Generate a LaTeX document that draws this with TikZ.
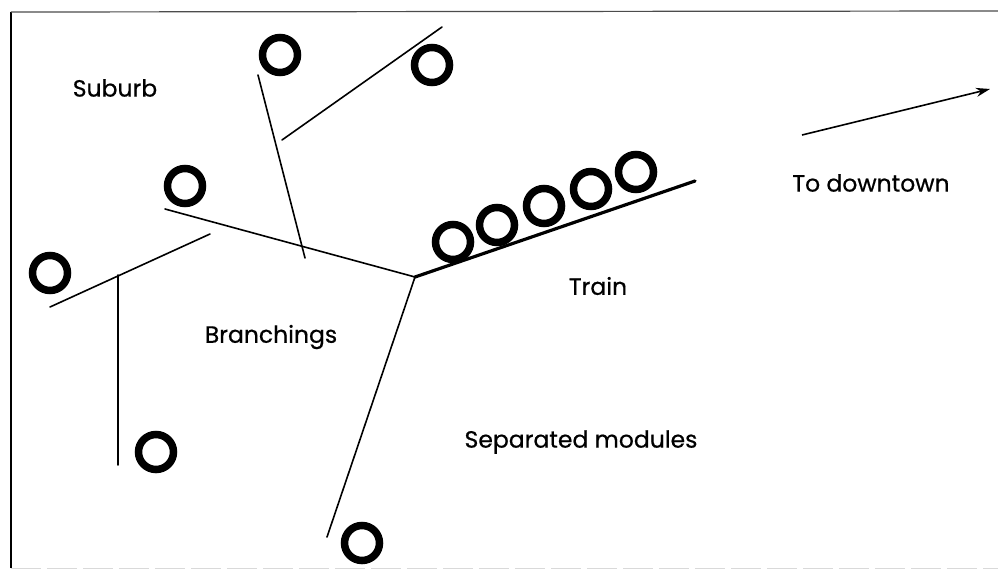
\documentclass[tikz,border=0pt]{standalone}
\usepackage{fontspec}
\setmainfont{Poppins}
\usetikzlibrary{arrows.meta}
\begin{document}
\begin{tikzpicture}[x=1pt,y=-1pt,
  module/.style={draw, circle, line width=7.5pt, minimum size=35pt, inner sep=0pt},
  road/.style={line width=1.6pt, line cap=round},
  rail/.style={line width=3.2pt, line cap=round},
  label/.style={font=\fontsize{23.5}{26}\selectfont\addfontfeatures{FakeBold=0.6}, inner sep=0pt}]
\useasboundingbox (0,0) rectangle (998,570);
\fill[white] (0,0) rectangle (998,570);
% frame
\draw[line width=2pt] (11,568) -- (11,12);
\draw[line width=1.2pt, black!70] (11,12) -- (998,11);
\draw[line width=1pt, black!15, dash pattern=on 30pt off 6pt] (11,568) -- (998,568);
% modules
\node[module] (m1) at (280,55) {};
\node[module] (m2) at (432,65) {};
\node[module] (m3) at (185,186) {};
\node[module] (m4) at (50,273) {};
\node[module] (m5) at (156,452) {};
\node[module] (m6) at (362,543) {};
\node[module] (t1) at (453,242) {};
\node[module] (t2) at (497,225) {};
\node[module] (t3) at (544,206) {};
\node[module] (t4) at (591,189) {};
\node[module] (t5) at (636,172) {};
% branch points
\coordinate (j) at (415,277);
\coordinate (a1) at (258,75);
\coordinate (a2) at (305,258);
\coordinate (b1) at (282,140);
\coordinate (b2) at (442,27);
\coordinate (c1) at (165,209);
\coordinate (tr) at (695,181);
\coordinate (d1) at (327,537);
\coordinate (e1) at (50,307);
\coordinate (e2) at (210,234);
\coordinate (f1) at (118,275);
\coordinate (f2) at (118,465);
\coordinate (ar1) at (802,135);
\coordinate (ar2) at (990,89);
% roads
\draw[road] (a1) -- (a2);
\draw[road] (b1) -- (b2);
\draw[road] (c1) -- (j);
\draw[road] (j) -- (d1);
\draw[road] (e1) -- (e2);
\draw[road] (f1) -- (f2);
\draw[rail] (j) -- (tr);
\draw[line width=1.6pt, -{Stealth[length=14pt,width=9pt]}] (ar1) -- (ar2);
% labels
\node[label] (ls) at (115,88) {Suburb};
\node[label] (ld) at (871,183) {To downtown};
\node[label] (lt) at (598,286) {Train};
\node[label] (lb) at (271,337) {Branchings};
\node[label] (lm) at (581,442) {Separated modules};
\end{tikzpicture}
\end{document}
